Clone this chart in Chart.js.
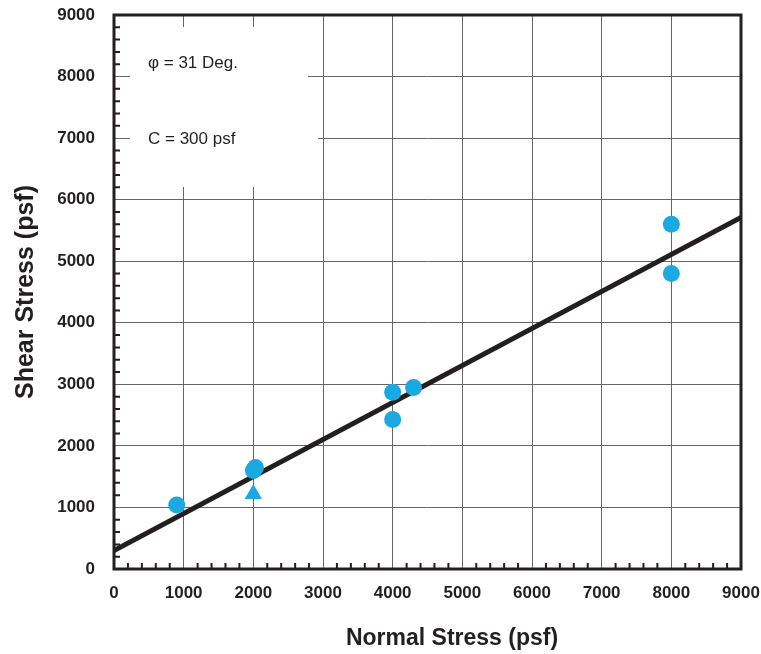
<!DOCTYPE html>
<html>
<head>
<meta charset="utf-8">
<script src="https://cdn.jsdelivr.net/npm/chart.js@4"></script>
<style>
html,body{margin:0;padding:0;background:#fff;}
#wrap{width:761px;height:654px;}
</style>
</head>
<body>
<div id="wrap"><canvas id="c" width="761" height="654"></canvas></div>
<script>
// Data
const circleX = [900, 2000, 2030, 4000, 4000, 4300, 8000, 8000];
const circleY = [1040, 1600, 1650, 2870, 2430, 2950, 5600, 4800];
const triangleX = [2000];
const triangleY = [1220];
const fitX = [0, 9000];
const fitY = [300, 5710];
const xTicks = [0,1000,2000,3000,4000,5000,6000,7000,8000,9000];
const yTicks = [0,1000,2000,3000,4000,5000,6000,7000,8000,9000];
const annotations = ["\u03C6 = 31 Deg.", "C = 300 psf"];
const xTitle = "Normal Stress (psf)";
const yTitle = "Shear Stress (psf)";

const pts = (xs, ys) => xs.map((x, i) => ({x: x, y: ys[i]}));
const BLUE = '#1ba9e1';
const DARK = '#231f20';
const FONT = '"Liberation Sans", Arial, sans-serif';

const decor = {
  id: 'decor',
  beforeDatasetsDraw(chart) {
    const ctx = chart.ctx;
    const a = chart.chartArea;
    const xs = chart.scales.x, ys = chart.scales.y;
    ctx.save();
    // white text boxes covering the grid
    ctx.fillStyle = '#fff';
    ctx.fillRect(130, 27, 178, 82);
    ctx.fillRect(130, 105, 188, 82);
    // text
    ctx.fillStyle = DARK;
    ctx.font = '17px ' + FONT;
    ctx.textBaseline = 'middle';
    ctx.textAlign = 'left';
    ctx.fillText(annotations[0], 148, 63);
    ctx.fillText(annotations[1], 148, 139);
    // minor inward ticks
    ctx.strokeStyle = DARK;
    ctx.lineWidth = 2;
    ctx.beginPath();
    for (let v = 200; v < 9000; v += 200) {
      if (v % 1000 === 0) continue;
      const px = xs.getPixelForValue(v);
      ctx.moveTo(px, a.bottom);
      ctx.lineTo(px, a.bottom - 6);
      const py = ys.getPixelForValue(v);
      ctx.moveTo(a.left, py);
      ctx.lineTo(a.left + 6, py);
    }
    ctx.stroke();
    // frame
    ctx.lineWidth = 3;
    ctx.strokeStyle = DARK;
    ctx.strokeRect(a.left, a.top, a.right - a.left, a.bottom - a.top);
    ctx.restore();
  },
  afterDraw(chart) {
    const ctx = chart.ctx;
    ctx.save();
    ctx.fillStyle = DARK;
    ctx.font = 'bold 23px ' + FONT;
    ctx.textAlign = 'center';
    ctx.textBaseline = 'alphabetic';
    ctx.fillText(xTitle, 452, 645);
    ctx.restore();
  }
};

new Chart(document.getElementById('c'), {
  type: 'scatter',
  data: {
    datasets: [
      {
        type: 'line',
        data: pts(fitX, fitY),
        borderColor: DARK,
        borderWidth: 5,
        pointRadius: 0,
        fill: false,
        order: 3
      },
      {
        data: pts(circleX, circleY),
        backgroundColor: BLUE,
        borderColor: BLUE,
        borderWidth: 0,
        pointRadius: 8.5,
        pointStyle: 'circle',
        order: 1
      },
      {
        data: pts(triangleX, triangleY),
        backgroundColor: BLUE,
        borderColor: BLUE,
        borderWidth: 0,
        pointRadius: 10,
        pointStyle: 'triangle',
        order: 2
      }
    ]
  },
  options: {
    responsive: false,
    animation: false,
    layout: {padding: {left: 0, right: 20, top: 15, bottom: 0}},
    plugins: {legend: {display: false}, tooltip: {enabled: false}},
    scales: {
      x: {
        type: 'linear',
        min: 0, max: 9000,
        afterBuildTicks: s => { s.ticks = xTicks.map(v => ({value: v})); },
        afterFit: s => { s.height = 85; s.paddingLeft = 0; s.paddingRight = 0; },
        ticks: {
          color: DARK,
          font: {family: FONT, size: 17, weight: 'bold'},
          padding: 14,
          maxRotation: 0,
          callback: v => String(v)
        },
        grid: {color: '#666', lineWidth: 1, drawTicks: false},
        border: {display: false}
      },
      y: {
        type: 'linear',
        min: 0, max: 9000,
        afterBuildTicks: s => { s.ticks = yTicks.map(v => ({value: v})); },
        afterFit: s => { s.width = 114; s.paddingTop = 0; s.paddingBottom = 0; },
        ticks: {
          color: DARK,
          font: {family: FONT, size: 17, weight: 'bold'},
          padding: 19,
          callback: v => String(v)
        },
        grid: {color: '#666', lineWidth: 1, drawTicks: false},
        border: {display: false},
        title: {
          display: true,
          text: yTitle,
          color: DARK,
          font: {family: FONT, size: 25, weight: 'bold'},
          padding: {top: 11, bottom: 6}
        }
      }
    }
  },
  plugins: [decor]
});
</script>
</body>
</html>
